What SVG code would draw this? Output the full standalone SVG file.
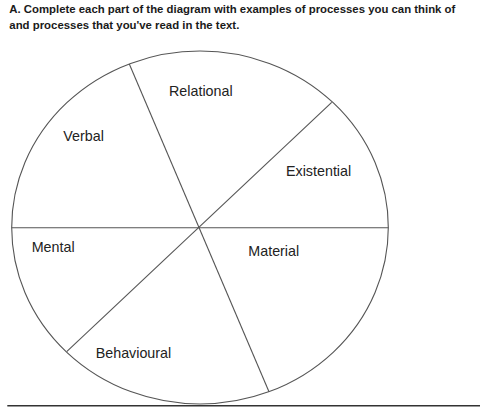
<svg xmlns="http://www.w3.org/2000/svg" width="480" height="407" viewBox="0 0 480 407">
<style>
.t{font-family:"Liberation Sans",Arial,sans-serif;font-size:11.5px;font-weight:bold;fill:#1a1a1a}
.l{font-family:"Liberation Sans",Arial,sans-serif;font-size:14.3px;fill:#222}
.s{fill:none;stroke:#555;stroke-width:1.1}
</style>
<rect width="480" height="407" fill="#fff"/>
<g id="title">
<text class="t" x="9.3" y="13.3" textLength="446" lengthAdjust="spacingAndGlyphs">A. Complete each part of the diagram with examples of processes you can think of</text>
<text class="t" x="9.3" y="29" textLength="230" lengthAdjust="spacingAndGlyphs">and processes that you've read in the text.</text>
</g>
<g id="circle">
<ellipse class="s" cx="200" cy="227.5" rx="188.3" ry="176.5"/>
</g>
<g id="connectors">
<line class="s" x1="11.7" y1="227.7" x2="388.3" y2="227.7"/>
<line class="s" x1="129.3" y1="64" x2="269" y2="391.7"/>
<line class="s" x1="331.7" y1="102.3" x2="66.7" y2="351.7"/>
<line x1="7.3" y1="405.7" x2="480" y2="405.7" stroke="#333" stroke-width="1.6"/>
</g>
<g id="relational"><text class="l" x="169" y="95.5">Relational</text></g>
<g id="verbal"><text class="l" x="63.3" y="140.7">Verbal</text></g>
<g id="existential"><text class="l" x="286" y="175.5">Existential</text></g>
<g id="mental"><text class="l" x="31.7" y="251.7">Mental</text></g>
<g id="material"><text class="l" x="248.3" y="255.7">Material</text></g>
<g id="behavioural"><text class="l" x="95.7" y="358.3">Behavioural</text></g>
</svg>
